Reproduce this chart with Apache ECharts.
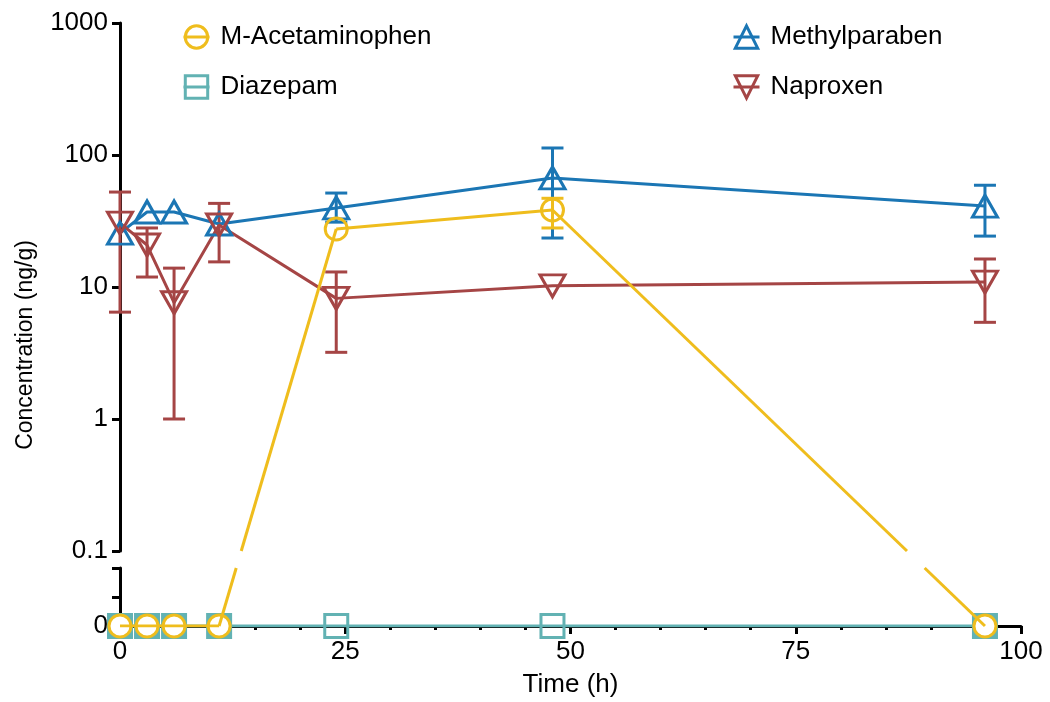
<!DOCTYPE html>
<html><head><meta charset="utf-8">
<script src="https://cdn.jsdelivr.net/npm/echarts@6/dist/echarts.min.js"></script>
<style>html,body{margin:0;padding:0;background:#fff}#c{width:1050px;height:702px}</style>
</head><body><div id="c"></div>
<script>
// ---- data ----
const times = [0, 3, 6, 11, 24, 48, 96];
const acetaminophen     = [0, 0, 0, 0, 27.5, 38.3, 0];
const acetaminophenLow  = [null, null, null, null, null, 28, null];
const acetaminophenHigh = [null, null, null, null, null, 47, null];
const diazepam = [0, 0, 0, 0, 0, 0, 0];
const methylparaben     = [25.6, 37, 37, 30, 39.7, 67, 41];
const methylparabenLow  = [null, null, null, null, 31, 23.5, 24.3];
const methylparabenHigh = [null, null, null, null, 51.5, 113, 59];
const naproxen     = [30.5, 20.8, 7.6, 29.5, 8.2, 10.2, 10.9];
const naproxenLow  = [6.45, 11.9, 1.0, 15.5, 3.2, null, 5.4];
const naproxenHigh = [52.4, 28, 13.9, 43, 13, null, 16.3];
const xTickLabels = ['0', '25', '50', '75', '100'];
const yLogTickLabels = ['0.1', '1', '10', '100', '1000'];
const yZeroLabel = '0';

const C = {acet: '#EFBD1D', diaz: '#62B2B3', methyl: '#1B76B4', nap: '#A54545'};
const FONT = '"Liberation Sans", Arial, sans-serif';
const LW = 3;
const FS = 26;

const chart = echarts.init(document.getElementById('c'), null, {renderer: 'canvas'});

function errData(lo, hi) {
  const out = [];
  times.forEach((t, i) => { if (lo[i] != null && hi[i] != null) out.push([t, lo[i], hi[i]]); });
  return out;
}
function errSeries(name, color, lo, hi) {
  return {
    name: name, type: 'custom', xAxisIndex: 0, yAxisIndex: 0, z: 2,
    encode: {x: 0, y: [1, 2]},
    data: errData(lo, hi),
    renderItem: function (params, api) {
      const x = api.value(0);
      const pLo = api.coord([x, api.value(1)]);
      const pHi = api.coord([x, api.value(2)]);
      const w = 11;
      const st = {stroke: color, lineWidth: LW, fill: null};
      return {type: 'group', children: [
        {type: 'line', shape: {x1: pHi[0], y1: pHi[1], x2: pLo[0], y2: pLo[1]}, style: st},
        {type: 'line', shape: {x1: pHi[0] - w, y1: pHi[1], x2: pHi[0] + w, y2: pHi[1]}, style: st},
        {type: 'line', shape: {x1: pLo[0] - w, y1: pLo[1], x2: pLo[0] + w, y2: pLo[1]}, style: st}
      ]};
    }
  };
}
const hollow = c => ({color: 'rgba(255,255,255,0)', borderColor: c, borderWidth: LW});

const axisBlack = {lineStyle: {color: '#000', width: 3}};
const tickBlack = {show: true, length: 8, lineStyle: {color: '#000', width: 3}};

const legendBase = {
  orient: 'vertical', top: 19, itemWidth: 26, itemHeight: 28, itemGap: 24,
  selectedMode: false,
  itemStyle: {borderWidth: LW},
  lineStyle: {width: LW},
  textStyle: {fontSize: FS, color: '#000', fontFamily: FONT, padding: [0, 0, 0, 6]}
};

const option = {
  animation: false,
  backgroundColor: '#fff',
  grid: [
    {left: 120, right: 29, top: 23, height: 528},
    {left: 120, right: 29, top: 568, height: 58}
  ],
  legend: [
    Object.assign({}, legendBase, {left: 177, data: ['M-Acetaminophen', 'Diazepam']}),
    Object.assign({}, legendBase, {left: 727, data: ['Methylparaben', 'Naproxen']})
  ],
  xAxis: [
    {gridIndex: 0, type: 'value', min: 0, max: 100, show: false},
    {gridIndex: 1, type: 'value', min: 0, max: 100, interval: 25,
     axisLine: axisBlack, axisTick: tickBlack,
     minorTick: {show: true, splitNumber: 5, length: 4, lineStyle: {color: '#000', width: 3}},
     splitLine: {show: false},
     axisLabel: {fontSize: FS, color: '#000', fontFamily: FONT, margin: 13,
       formatter: v => xTickLabels[Math.round(v / 25)]},
     name: 'Time (h)', nameLocation: 'middle', nameGap: 46,
     nameTextStyle: {fontSize: FS, color: '#000', fontFamily: FONT}}
  ],
  yAxis: [
    {gridIndex: 0, type: 'log', logBase: 10, min: 0.1, max: 1000,
     axisLine: Object.assign({show: true}, axisBlack), axisTick: tickBlack,
     splitLine: {show: false}, minorTick: {show: false},
     axisLabel: {fontSize: FS, color: '#000', fontFamily: FONT, margin: 12,
       formatter: v => yLogTickLabels[Math.round(Math.log10(v)) + 1]}},
    {gridIndex: 1, type: 'value', min: 0, max: 2, interval: 1,
     axisLine: Object.assign({show: true}, axisBlack), axisTick: tickBlack,
     splitLine: {show: false},
     axisLabel: {fontSize: FS, color: '#000', fontFamily: FONT, margin: 12,
       formatter: v => (v === 0 ? yZeroLabel : '')}}
  ],
  series: [
    {name: 'M-Acetaminophen', type: 'line', xAxisIndex: 0, yAxisIndex: 0, z: 4,
     symbol: 'circle', symbolSize: 22,
     data: times.map((t, i) => [t, acetaminophen[i] > 0 ? acetaminophen[i] : '-']),
     itemStyle: hollow(C.acet), lineStyle: {color: C.acet, width: LW}},
    {name: 'Diazepam', type: 'line', xAxisIndex: 1, yAxisIndex: 1, z: 2,
     symbol: 'rect', symbolSize: 23,
     data: times.map((t, i) => (acetaminophen[i] === 0
       ? {value: [t, diazepam[i]], itemStyle: {color: C.diaz}}
       : {value: [t, diazepam[i]]})),
     itemStyle: hollow(C.diaz), lineStyle: {color: C.diaz, width: LW}},
    {name: 'Methylparaben', type: 'line', xAxisIndex: 0, yAxisIndex: 0, z: 3,
     symbol: 'triangle', symbolSize: [25, 22],
     data: times.map((t, i) => [t, methylparaben[i]]),
     itemStyle: hollow(C.methyl), lineStyle: {color: C.methyl, width: LW}},
    {name: 'Naproxen', type: 'line', xAxisIndex: 0, yAxisIndex: 0, z: 3,
     symbol: 'triangle', symbolRotate: 180, symbolSize: [25, 22],
     data: times.map((t, i) => [t, naproxen[i]]),
     itemStyle: hollow(C.nap), lineStyle: {color: C.nap, width: LW}},
    {name: 'M-Acetaminophen', type: 'line', xAxisIndex: 1, yAxisIndex: 1, z: 3,
     symbol: 'circle', symbolSize: 22,
     data: times.map((t, i) => [t, acetaminophen[i] === 0 ? 0 : '-']),
     itemStyle: {color: '#fff', borderColor: C.acet, borderWidth: LW},
     lineStyle: {color: C.acet, width: 0, opacity: 0}},
    {name: 'acet-zero-line', type: 'line', xAxisIndex: 1, yAxisIndex: 1, z: 5,
     symbol: 'none', showSymbol: false,
     data: times.map((t, i) => [t, acetaminophen[i] === 0 ? 0 : '-']),
     lineStyle: {color: C.acet, width: LW}},
    errSeries('err-methyl', C.methyl, methylparabenLow, methylparabenHigh),
    errSeries('err-nap', C.nap, naproxenLow, naproxenHigh),
    errSeries('err-acet', C.acet, acetaminophenLow, acetaminophenHigh)
  ]
};
chart.setOption(option);

// segments of M-Acetaminophen that cross the axis break
const yTopBottom = chart.convertToPixel({yAxisIndex: 0}, 0.1);
const yBotTop = chart.convertToPixel({yAxisIndex: 1}, 2);
const graphics = [];
for (let i = 0; i < times.length - 1; i++) {
  const a = acetaminophen[i], b = acetaminophen[i + 1];
  if ((a === 0 && b > 0) || (a > 0 && b === 0)) {
    const zi = a === 0 ? i : i + 1, pi = a === 0 ? i + 1 : i;
    const pz = chart.convertToPixel({gridIndex: 1}, [times[zi], 0]);
    const pp = chart.convertToPixel({gridIndex: 0}, [times[pi], acetaminophen[pi]]);
    const atY = y => { const f = (y - pz[1]) / (pp[1] - pz[1]); return [pz[0] + f * (pp[0] - pz[0]), y]; };
    const q1 = atY(yBotTop), q2 = atY(yTopBottom);
    graphics.push({type: 'line', z: 4, silent: true, shape: {x1: pz[0], y1: pz[1], x2: q1[0], y2: q1[1]}, style: {stroke: C.acet, lineWidth: LW}});
    graphics.push({type: 'line', z: 4, silent: true, shape: {x1: q2[0], y1: q2[1], x2: pp[0], y2: pp[1]}, style: {stroke: C.acet, lineWidth: LW}});
  }
}
graphics.push({type: 'text', x: 26, y: 345, rotation: Math.PI / 2, silent: true,
  style: {text: 'Concentration (ng/g)', fontSize: 23, fontFamily: FONT, fill: '#000',
          align: 'center', verticalAlign: 'middle', textAlign: 'center', textVerticalAlign: 'middle'}});
chart.setOption({graphic: graphics});
</script>
</body></html>
